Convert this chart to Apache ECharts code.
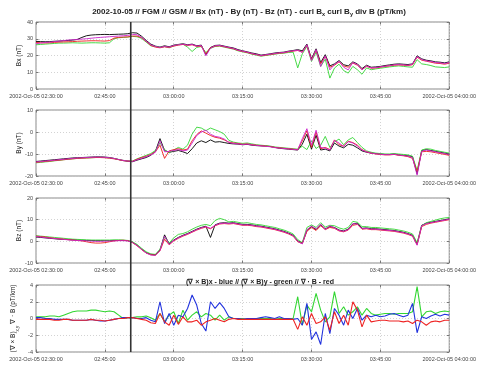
<!DOCTYPE html>
<html><head><meta charset="utf-8">
<script src="https://cdn.jsdelivr.net/npm/echarts@6/dist/echarts.min.js"></script>
<style>html,body{margin:0;padding:0;background:#fff}#c{width:479px;height:366px}</style>
</head><body><div id="c"></div><script>
// time axis: minutes after 2002-10-05 02:30:00, 1-minute samples
const minutes = []; for (let i = 0; i <= 90; i++) minutes.push(i);
const tickLabels = ['2002-Oct-05 02:30:00','02:45:00','03:00:00','03:15:00','03:30:00','03:45:00','2002-Oct-05 04:00:00'];
const markerMinute = 20.4; // vertical marker near 02:50:24

// Bx (nT)
const bxC1 = [28.4,28.3,28.2,28.3,28.5,28.6,28.8,29.0,29.2,29.6, 30.8,31.8,32.2,32.4,32.5,32.6,32.5,32.6,32.7,32.8, 33.0,33.6,33.4,31.5,29.0,26.8,25.6,25.0,25.8,25.2, 26.2,26.6,27.0,26.4,26.8,25.8,26.2,20.5,24.8,26.0, 26.2,25.6,25.0,24.5,23.5,22.8,22.2,21.5,21.0,20.2, 20.6,21.0,21.5,21.8,22.0,22.6,23.0,23.5,22.8,26.8, 18.0,24.0,15.8,20.5,13.8,15.0,17.0,14.5,13.8,16.2, 15.0,12.2,14.2,13.0,13.2,13.5,14.0,14.4,14.8,15.0, 14.8,14.6,15.0,19.8,18.0,17.2,16.8,16.2,16.0,15.6,16.2];
const bxC2 = [27.8,27.6,27.5,27.6,27.8,28.0,28.1,28.2,28.3,28.5, 28.6,28.7,28.8,28.8,28.7,28.6,28.9,30.4,30.8,31.0, 31.1,31.6,31.6,30.6,28.4,26.0,25.0,24.6,25.2,24.8, 25.6,26.2,26.6,26.0,26.4,25.4,25.6,21.0,24.6,25.6, 25.8,25.2,24.6,24.0,23.0,22.4,21.8,21.0,20.5,19.8, 20.2,20.6,21.0,21.4,21.6,22.2,22.6,23.0,22.0,26.0, 17.5,23.0,15.0,19.5,13.0,14.2,16.2,13.8,13.0,15.5, 14.2,11.6,13.6,12.4,12.6,13.0,13.5,13.8,14.2,14.4, 14.2,14.0,14.5,19.0,17.2,16.6,16.0,15.4,15.2,14.8,15.4];
const bxC3 = [26.4,26.6,26.8,27.0,27.2,27.4,27.4,27.5,27.6,27.5, 27.4,27.5,27.6,27.6,27.5,27.4,27.6,30.0,30.6,30.8, 31.0,31.4,31.2,30.2,28.0,25.8,25.4,24.8,25.4,24.6, 25.8,26.4,26.8,25.0,22.4,24.8,25.4,21.8,24.2,25.4, 25.6,25.0,24.4,23.8,22.8,22.2,21.6,20.8,20.2,19.6, 20.0,20.4,20.8,21.2,21.4,21.8,22.0,12.6,21.0,25.4, 16.5,22.0,13.5,17.8,6.5,12.5,14.8,11.0,9.5,13.5, 11.5,8.8,12.6,11.5,12.0,12.4,12.8,13.2,13.5,13.8, 13.5,13.2,13.0,17.5,15.0,14.6,14.0,13.2,13.0,12.8,13.2];
const bxC4 = [27.0,27.4,27.8,28.0,28.3,28.6,28.9,29.2,29.4,29.6, 29.8,30.0,30.3,30.6,30.8,31.0,31.2,31.4,31.6,31.8, 32.0,32.6,32.4,30.8,28.6,26.4,25.4,24.8,25.4,25.0, 26.0,26.4,26.8,26.2,26.6,25.6,26.0,19.8,24.4,25.8, 26.0,25.4,24.8,24.2,23.2,22.6,22.0,21.2,20.6,20.0, 20.4,20.8,21.2,21.6,21.8,22.4,22.8,23.2,21.8,26.4, 17.0,23.5,13.4,19.8,11.4,14.6,16.6,13.0,11.4,15.8, 14.6,11.4,13.8,12.6,12.8,13.2,13.6,14.0,14.4,14.6, 14.4,14.2,14.8,19.4,17.6,16.8,16.4,15.8,15.6,15.2,15.8];

// By (nT)
const byC1 = [-13.4,-13.2,-13.0,-12.8,-12.6,-12.4,-12.2,-12.0,-11.8,-11.7, -11.6,-11.5,-11.4,-11.3,-11.3,-11.4,-11.6,-12.0,-12.5,-13.0, -13.3,-13.5,-12.8,-12.2,-11.6,-10.6,-8.8,-3.0,-8.4,-9.2, -8.8,-8.4,-9.0,-9.8,-7.6,-5.0,-4.0,-4.8,-3.6,-4.6, -4.4,-4.8,-5.2,-5.4,-5.5,-5.8,-5.6,-6.0,-6.2,-6.3, -6.4,-6.6,-7.0,-7.4,-7.6,-7.8,-8.0,-8.2,-5.5,-1.0, -7.8,-1.5,-8.2,-7.8,-8.6,-5.0,-6.4,-7.2,-5.6,-6.0, -7.2,-8.6,-9.2,-9.6,-9.8,-10.0,-10.2,-10.2,-10.0,-10.4, -10.6,-10.8,-11.2,-19.0,-8.4,-8.0,-8.4,-8.8,-9.2,-9.6,-10.0];
const byC2 = [-13.8,-13.6,-13.4,-13.2,-13.0,-12.8,-12.6,-12.4,-12.2,-12.0, -11.9,-11.8,-11.7,-11.6,-11.6,-11.7,-11.9,-12.2,-12.6,-13.0, -13.2,-13.3,-12.4,-11.6,-11.0,-10.2,-9.0,-6.0,-12.0,-8.6, -8.0,-7.6,-8.2,-7.8,-4.0,-1.2,0.5,-0.5,-1.6,-2.4, -2.8,-3.6,-4.6,-5.0,-5.2,-5.6,-5.4,-5.8,-6.0,-6.2, -6.4,-6.6,-7.0,-7.2,-7.4,-7.6,-7.8,-8.0,-4.0,0.6, -7.0,0.0,-7.6,-7.0,-8.0,-3.6,-5.8,-6.4,-4.2,-4.8, -6.0,-8.0,-9.0,-9.6,-10.0,-10.2,-10.4,-10.4,-10.2,-10.6, -10.8,-11.2,-12.0,-18.0,-9.0,-8.8,-9.0,-9.4,-9.8,-10.2,-10.6];
const byC3 = [-14.0,-13.8,-13.6,-13.4,-13.1,-12.9,-12.6,-12.4,-12.2,-12.0, -11.9,-11.8,-11.7,-11.6,-11.5,-11.6,-11.8,-12.1,-12.5,-12.9, -13.1,-13.2,-12.2,-11.4,-10.6,-9.8,-8.4,-5.0,-8.0,-9.5, -8.2,-7.0,-7.8,-6.0,-1.0,2.2,1.8,0.6,1.8,1.0, 0.2,-1.0,-3.8,-4.6,-5.0,-5.2,-5.0,-5.4,-5.8,-6.0, -6.2,-6.4,-6.8,-7.0,-7.2,-7.4,-7.6,-7.8,-6.5,-8.0, -4.0,-7.5,-6.0,-2.0,-7.0,-4.5,-3.2,-5.8,-3.6,-2.5, -4.8,-7.0,-8.6,-9.2,-9.6,-9.8,-10.0,-10.0,-9.8,-10.0, -10.2,-10.4,-11.0,-17.5,-8.2,-7.6,-7.8,-8.4,-8.8,-9.2,-9.6];
const byC4 = [-13.6,-13.4,-13.2,-13.0,-12.8,-12.6,-12.4,-12.2,-12.0,-11.8, -11.7,-11.6,-11.5,-11.4,-11.4,-11.5,-11.7,-12.0,-12.5,-12.9, -13.2,-13.4,-12.6,-12.0,-11.2,-10.4,-9.2,-4.0,-9.0,-8.8, -8.4,-8.0,-8.6,-8.2,-5.0,-1.6,0.0,0.8,-1.0,-2.0, -2.4,-3.2,-4.8,-5.2,-5.4,-5.7,-5.5,-5.9,-6.1,-6.3, -6.5,-6.7,-7.1,-7.3,-7.5,-7.7,-7.9,-8.1,-3.0,1.5, -6.0,0.8,-7.0,-7.4,-8.2,-3.8,-5.0,-6.6,-4.4,-5.0, -6.4,-8.2,-9.0,-9.6,-9.9,-10.1,-10.3,-10.3,-10.1,-10.5, -10.7,-11.0,-11.6,-19.6,-8.8,-8.2,-8.6,-9.0,-9.4,-9.8,-10.2];

// Bz (nT)
const bzC1 = [2.0,1.8,1.6,1.4,1.2,1.0,0.9,0.8,0.7,0.6, 0.5,0.4,0.4,0.3,0.3,0.3,0.3,0.4,0.4,0.4, 0.3,-0.4,-1.8,-3.6,-5.2,-6.0,-6.2,-4.0,3.0,-1.2, 0.6,1.8,2.8,3.6,4.6,5.6,6.4,7.0,1.8,7.6, 8.4,8.6,8.4,8.6,8.2,7.8,7.8,7.6,7.2,7.0, 6.6,6.2,5.8,5.2,4.6,3.8,2.8,0.2,-0.8,5.0, 6.8,5.4,7.6,5.8,6.8,6.4,5.2,4.8,5.6,8.0, 8.4,6.0,6.2,5.8,5.8,5.6,5.4,5.2,5.0,4.6, 4.2,3.6,2.8,-1.2,7.4,8.4,8.8,9.2,9.6,10.0,10.4];
const bzC2 = [2.4,2.2,2.0,1.7,1.4,1.2,1.0,0.8,0.6,0.4, 0.2,-0.2,-0.6,-0.8,-0.8,-0.6,-0.2,0.2,0.4,0.5, 0.3,-0.6,-2.0,-3.8,-5.4,-6.2,-6.4,-4.4,1.0,-1.6, 0.2,1.4,2.4,3.2,4.2,5.2,6.0,6.6,5.8,7.2, 8.0,8.2,8.0,8.2,7.8,7.4,7.4,7.2,6.8,6.6, 6.2,5.8,5.4,4.8,4.2,3.4,2.4,-0.2,-1.0,4.6, 6.4,5.0,7.2,5.4,6.4,6.0,4.8,4.4,5.2,7.4, 7.8,5.6,5.8,5.4,5.4,5.2,5.0,4.8,4.6,4.2, 3.8,3.2,2.4,-1.6,6.8,7.8,8.4,8.8,9.2,9.6,10.0];
const bzC3 = [2.6,2.4,2.2,2.0,1.8,1.6,1.4,1.2,1.0,0.9, 0.8,0.7,0.6,0.6,0.6,0.6,0.6,0.7,0.7,0.6, 0.4,-0.2,-1.4,-3.2,-4.8,-5.8,-6.0,-3.6,2.0,-0.8, 1.6,3.2,3.6,4.4,5.6,6.6,7.4,7.8,7.2,9.6, 10.6,10.0,9.0,9.2,8.8,8.4,8.6,8.2,7.8,7.6, 7.2,6.8,6.4,5.8,5.2,4.4,3.4,0.8,-0.6,6.4, 7.6,6.4,8.6,6.6,7.4,7.2,6.2,5.6,6.4,9.2, 8.8,6.8,6.8,6.4,6.4,6.2,6.0,5.8,5.6,5.2, 4.8,4.2,3.4,-0.6,7.2,8.6,9.2,9.8,10.4,10.8,11.0];
const bzC4 = [2.2,2.0,1.7,1.5,1.3,1.1,0.9,0.7,0.5,0.4, 0.3,0.2,0.1,0.0,0.0,0.1,0.1,0.2,0.3,0.3, 0.2,-0.5,-1.9,-3.7,-5.4,-6.3,-6.5,-4.2,2.4,-1.4, 0.4,1.6,2.6,3.4,4.4,5.4,6.2,6.8,6.0,7.4, 8.2,8.4,8.2,8.4,8.0,7.6,7.6,7.4,7.0,6.8, 6.4,6.0,5.6,5.0,4.4,3.6,2.6,0.0,-1.2,5.4, 7.0,5.8,8.0,5.4,7.2,6.2,5.0,4.6,5.4,8.2, 8.0,5.8,6.0,5.6,5.6,5.4,5.2,5.0,4.8,4.4, 4.0,3.4,2.6,-1.8,7.2,8.2,8.6,9.0,9.4,9.8,10.2];

// curl B x, curl B y, div B (pT/km)
const curlX = [0.1,0.1,0.0,0.0,-0.1,-0.1,-0.1,-0.1,-0.2,-0.2, -0.2,-0.2,-0.1,-0.2,-0.3,-0.3,-0.2,-0.1,0.0,0.1, 0.1,0.1,0.0,0.0,0.1,-0.2,-0.4,2.0,-0.6,0.6, -0.8,0.4,0.2,1.2,2.8,1.6,-0.6,-1.5,2.0,1.2, 1.9,1.2,0.2,0.0,0.0,-0.1,0.0,0.0,0.0,0.1, 0.2,0.1,0.0,0.2,0.0,0.0,-0.1,0.0,-0.8,1.8, -2.5,-1.6,-3.1,0.6,-1.8,1.2,0.4,-0.8,1.0,0.0, 1.2,-0.2,0.4,0.2,0.4,0.2,0.3,0.5,0.6,0.4, 0.2,0.4,1.8,-1.7,0.2,0.0,0.3,0.5,0.3,0.5,0.4];
const curlY = [0.2,0.2,0.2,0.3,0.3,0.2,0.4,0.6,0.8,0.9, 0.9,0.9,1.0,1.0,0.9,0.8,0.9,0.8,0.4,0.0, 0.1,0.1,0.2,0.2,0.3,0.1,-0.2,0.6,-0.4,0.4, 0.8,-0.6,1.0,-0.2,0.4,0.8,0.2,0.6,0.4,-0.2, 0.4,-0.2,0.2,0.0,0.0,0.0,-0.1,0.0,0.0,0.0, 0.0,0.0,-0.1,0.0,0.0,0.0,0.0,2.6,-0.8,1.6, 0.8,3.0,1.0,-0.4,0.2,3.2,0.6,1.4,0.4,0.8, 1.4,0.4,1.2,0.6,0.4,0.5,0.6,0.6,0.5,0.6, 0.6,0.6,0.8,3.8,0.2,0.8,0.9,0.6,0.8,0.9,0.8];
const divB = [-0.1,-0.1,-0.1,-0.1,-0.2,-0.2,-0.1,-0.1,-0.2,-0.2, -0.2,-0.2,-0.1,-0.2,-0.2,-0.3,-0.2,-0.1,0.0,0.0, 0.1,0.1,0.0,-0.1,-0.2,-0.5,-0.6,0.6,-0.4,-0.8, 0.4,-0.7,0.2,-0.4,-0.4,-0.2,-0.8,-0.4,-0.2,0.0, -0.2,-0.4,-0.1,0.0,-0.1,-0.1,-0.1,-0.1,-0.1,-0.1, -0.1,-0.1,-0.1,-0.1,-0.1,-0.1,-0.1,-1.3,0.2,-0.8, 0.6,-0.6,-0.4,0.2,-1.4,0.8,-0.6,0.4,-0.8,2.0, 1.0,-1.0,0.4,-0.4,-0.3,-0.2,-0.2,-0.3,-0.3,-0.3, -0.4,-0.3,-0.6,-0.2,-0.4,-0.8,-0.4,-0.3,-0.4,-0.2,-0.2];

const FONT = 'Liberation Sans';
const scColors = ['#000000', '#ee1c1c', '#33d633', '#cc22cc'];
const curlColors = ['#2233dd', '#33d633', '#ee2222'];

const panels = [
  { top: 22, height: 67, min: 0, max: 40, interval: 10, name: 'Bx (nT)', series: [bxC1, bxC3, bxC2, bxC4], colors: [scColors[0], scColors[2], scColors[1], scColors[3]], gap: 13 },
  { top: 110, height: 66, min: -20, max: 10, interval: 10, name: 'By (nT)', series: [byC1, byC3, byC2, byC4], colors: [scColors[0], scColors[2], scColors[1], scColors[3]], gap: 13 },
  { top: 198, height: 65, min: -10, max: 20, interval: 10, name: 'Bz (nT)', series: [bzC1, bzC3, bzC2, bzC4], colors: [scColors[0], scColors[2], scColors[1], scColors[3]], gap: 13 },
  { top: 285, height: 67, min: -4, max: 4, interval: 2, name: '{n|(∇ × B)}{s|x,y}{n| ∇ · B (pT/km)}', series: [curlY, curlX, divB], colors: [curlColors[1], curlColors[0], curlColors[2]], gap: 19, width: 1.1 }
];

const grid = [], xAxis = [], yAxis = [], series = [];
const axisLabelStyle = { fontSize: 5.5, color: '#444', fontFamily: FONT };
const tickStyle = { show: true, inside: true, length: 2.5, lineStyle: { color: '#777' } };
panels.forEach((p, i) => {
  grid.push({ left: 36, right: 25, top: p.top, height: p.height, show: true, borderColor: '#8a8a8a', borderWidth: 1, backgroundColor: '#fff' });
  xAxis.push({
    type: 'value', gridIndex: i, min: 0, max: 90, interval: 15, position: 'bottom',
    axisLine: { show: false, onZero: false }, axisTick: tickStyle,
    splitLine: { show: true, lineStyle: { color: '#c8c8c8', type: [1, 2], width: 0.8 } },
    axisLabel: Object.assign({ margin: 4, formatter: v => tickLabels[Math.round(v / 15)] || '' }, axisLabelStyle)
  });
  xAxis.push({
    type: 'value', gridIndex: i, min: 0, max: 90, interval: 15, position: 'top',
    axisLine: { show: false, onZero: false }, axisTick: tickStyle,
    splitLine: { show: false }, axisLabel: { show: false }
  });
  yAxis.push({
    type: 'value', gridIndex: i, min: p.min, max: p.max, interval: p.interval, position: 'left',
    name: p.name, nameLocation: 'middle', nameGap: p.gap, nameRotate: 90, nameMoveOverlap: false,
    nameTextStyle: { fontSize: 6.5, color: '#222', fontFamily: FONT, rich: { n: { fontSize: 6.5, fontFamily: FONT, color: '#222' }, s: { fontSize: 4.5, fontFamily: FONT, color: '#222', verticalAlign: 'bottom', padding: [0,0,-3,0] } } },
    axisLine: { show: false, onZero: false }, axisTick: tickStyle,
    splitLine: { show: true, lineStyle: { color: '#c8c8c8', type: [1, 2], width: 0.8 } },
    axisLabel: Object.assign({ margin: 3 }, axisLabelStyle)
  });
  yAxis.push({
    type: 'value', gridIndex: i, min: p.min, max: p.max, interval: p.interval, position: 'right',
    axisLine: { show: false, onZero: false }, axisTick: tickStyle,
    splitLine: { show: false }, axisLabel: { show: false }
  });
  p.series.forEach((arr, k) => {
    series.push({
      type: 'line', xAxisIndex: 2 * i, yAxisIndex: 2 * i, showSymbol: false, symbol: 'none',
      data: minutes.map((m, j) => [m, arr[j]]),
      lineStyle: { color: p.colors[k], width: p.width || 0.9 }, animation: false, silent: true
    });
  });
});

// overlay grid for the vertical marker line crossing all panels
grid.push({ left: 36, right: 25, top: 22, height: 330, show: false });
xAxis.push({ type: 'value', gridIndex: 4, min: 0, max: 90, show: false });
yAxis.push({ type: 'value', gridIndex: 4, min: 0, max: 1, show: false });
series.push({ type: 'line', xAxisIndex: 8, yAxisIndex: 8, symbol: 'none', data: [[markerMinute, 0], [markerMinute, 1]], lineStyle: { color: '#333', width: 1.6 }, animation: false, silent: true, z: 5 });

const chart = echarts.init(document.getElementById('c'), null, { renderer: 'canvas' });
chart.setOption({
  backgroundColor: '#fff',
  animation: false,
  title: [
    { text: '2002-10-05 // FGM // GSM // Bx (nT) - By (nT) - Bz (nT) - curl B{s|x} curl B{s|y} div B (pT/km)',
      left: 244, textAlign: 'center', top: 3,
      textStyle: { fontSize: 8, fontWeight: 'bold', color: '#222', fontFamily: FONT, rich: { s: { fontSize: 5.5, fontWeight: 'bold', fontFamily: FONT, color: '#222', padding: [0,0,-4,0] } } } },
    { text: '(∇ × B)x - blue // (∇ × B)y - green // ∇ · B - red',
      left: 255, textAlign: 'center', top: 274,
      textStyle: { fontSize: 7, fontWeight: 'bold', color: '#222', fontFamily: FONT } }
  ],
  grid, xAxis, yAxis, series
});
</script></body></html>
